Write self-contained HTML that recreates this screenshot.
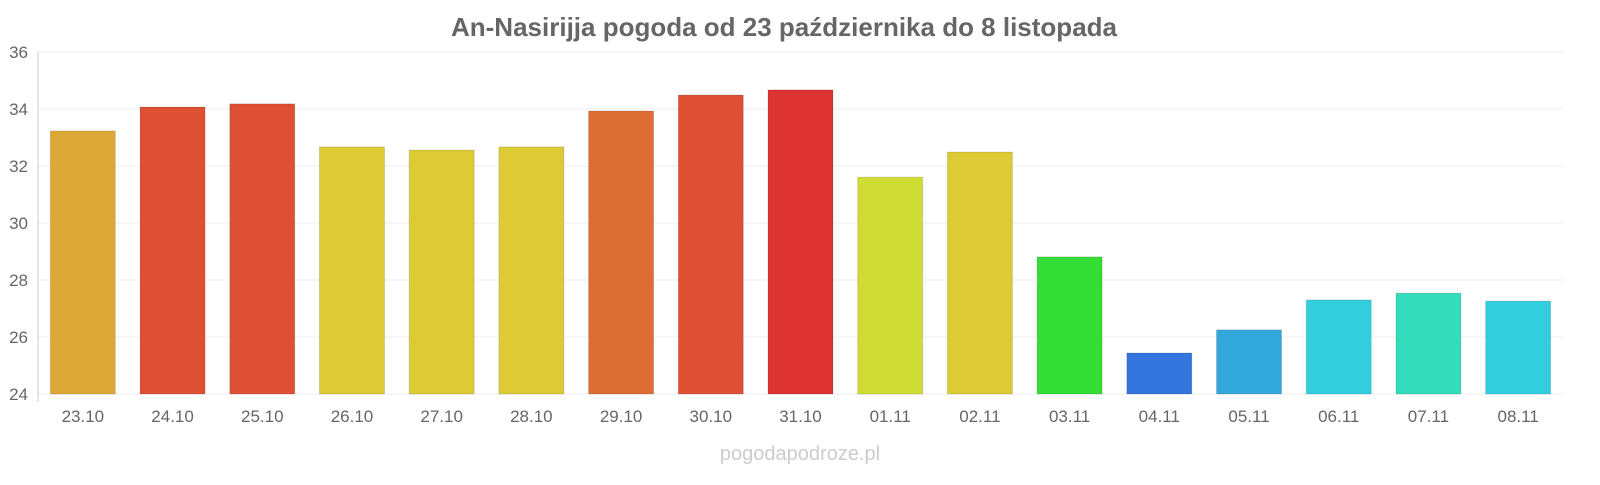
<!DOCTYPE html>
<html><head><meta charset="utf-8"><style>
body{margin:0;background:#fff;font-family:"Liberation Sans",sans-serif;}
svg text{font-family:"Liberation Sans",sans-serif;}
</style></head><body>
<svg id="chart" width="1600" height="480" xmlns="http://www.w3.org/2000/svg">
<text x="784" y="36" text-anchor="middle" font-size="26" font-weight="bold" fill="#666">An-Nasirijja pogoda od 23 października do 8 listopada</text>
<g id="grid"></g><g id="bars"></g><g id="xlabels"></g><g id="ylabels"></g>
<line x1="38" y1="52" x2="38" y2="402" stroke="#ccc"/>
<text x="800" y="460" text-anchor="middle" font-size="20" fill="#ccc">pogodapodroze.pl</text>
</svg>
<script>
const categories=["23.10","24.10","25.10","26.10","27.10","28.10","29.10","30.10","31.10","01.11","02.11","03.11","04.11","05.11","06.11","07.11","08.11"];
const values=[33.23,34.07,34.18,32.67,32.56,32.67,33.93,34.49,34.67,31.61,32.49,28.81,25.44,26.25,27.30,27.54,27.26];
const colors=["#dda835","#dd5033","#dd5033","#dccb35","#dccb35","#dccb35","#dd6e33","#dd5033","#dd3333","#cfdc33","#dccb35","#33dd33","#3375dd","#33a8dd","#33cedd","#33dcba","#33cedd"];
const yTicks=[24,26,28,30,32,34,36];
const NS="http://www.w3.org/2000/svg";
const x0=38,x1=1563,yMin=24,yMax=36,yTop=52,yBot=394;
const y=v=>yBot-(v-yMin)/(yMax-yMin)*(yBot-yTop);
const slot=(x1-x0)/categories.length;
const xc=i=>x0+slot*(i+0.5);
function mk(t,a,p){const e=document.createElementNS(NS,t);for(const k in a)e.setAttribute(k,a[k]);document.getElementById(p).appendChild(e);return e;}
yTicks.forEach(t=>{
  const l=mk('line',{x1:x0,x2:x1,y1:y(t),y2:y(t),stroke:'#eee'},'grid');
  
  
  const tx=mk('text',{x:28,y:y(t)+6,'text-anchor':'end','font-size':17,fill:'#666'},'ylabels');
  tx.textContent=t;
  
  
});
categories.forEach((c,i)=>{
  const b=mk('rect',{x:xc(i)-32.5,y:y(values[i]),width:65,height:yBot-y(values[i]),fill:colors[i],stroke:'rgba(0,0,0,0.12)'},'bars');
  
  
  const t=mk('text',{x:xc(i),y:422,'text-anchor':'middle','font-size':17,fill:'#666'},'xlabels');
  t.textContent=c;
  
  
});
</script>
</body></html>
